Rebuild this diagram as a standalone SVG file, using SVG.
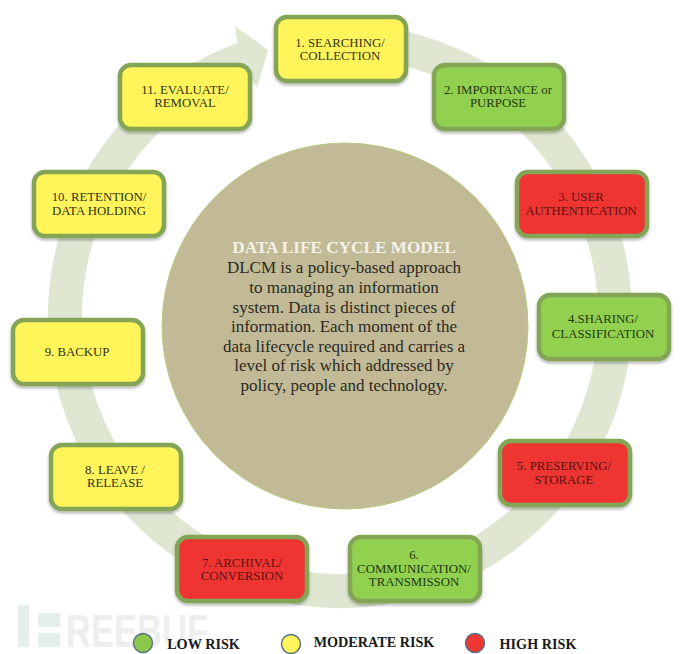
<svg xmlns="http://www.w3.org/2000/svg" width="690" height="654" viewBox="0 0 690 654">
<style>
text{font-family:"Liberation Serif","Times New Roman",serif;text-anchor:middle;fill:#222}
.n rect{stroke:#84a557;stroke-width:4.5;filter:url(#s)}
.n text{font-size:12.8px}
.g rect{fill:#92d050}.y rect{fill:#fff55a}.r rect{fill:#ee3632}
.g text{fill:#1f3a10}.y text{fill:#333318}.r text{fill:#5a1212}
.b text{font-size:17px;fill:#2a2a24}
.l circle{stroke:#5a7288;stroke-width:1.5}
.l text{font-size:14.2px;font-weight:bold;fill:#1a1a1a}
.ring{fill:none;stroke:#dfe7d3;stroke-width:34}
</style>
<defs>
<filter id="s" x="-10%" y="-10%" width="120%" height="125%"><feDropShadow dx="0" dy="2" stdDeviation="1.5" flood-color="#000" flood-opacity=".3"/></filter>
</defs>
<g id="connectors">
<path class="ring" d="M340 41A275 275 0 1 1 246 57.6"/>
<polygon points="235,26 268,50 257,88 240,60" fill="#dfe7d3"/>
</g>
<g id="center" class="b">
<circle cx="345" cy="326" r="183" fill="#c2ba96" stroke="#b5cc80" stroke-width="1"/>
<text x="344" y="253" style="font-weight:bold;font-size:17.2px;fill:#f4f2e8">DATA LIFE CYCLE MODEL</text>
<text x="344" y="273">DLCM is a policy-based approach</text>
<text x="344" y="293">to managing an information</text>
<text x="344" y="313">system. Data is distinct pieces of</text>
<text x="344" y="332">information. Each moment of the</text>
<text x="344" y="352">data lifecycle required and carries a</text>
<text x="344" y="371">level of risk which addressed by</text>
<text x="344" y="391">policy, people and technology.</text>
</g>
<g id="n1" class="n y"><rect x="276" y="17" width="130" height="64" rx="11"/><text x="340" y="46.5">1. SEARCHING/</text><text x="340" y="59.5">COLLECTION</text></g>
<g id="n2" class="n g"><rect x="434" y="65" width="130" height="64" rx="11"/><text x="498" y="94">2. IMPORTANCE or</text><text x="498" y="107">PURPOSE</text></g>
<g id="n3" class="n r"><rect x="517" y="172" width="130" height="64" rx="11"/><text x="581" y="201">3. USER</text><text x="581" y="215">AUTHENTICATION</text></g>
<g id="n4" class="n g"><rect x="539" y="295" width="130" height="64" rx="11"/><text x="603" y="323">4.SHARING/</text><text x="603" y="338">CLASSIFICATION</text></g>
<g id="n5" class="n r"><rect x="500" y="441" width="130" height="64" rx="11"/><text x="564" y="470">5. PRESERVING/</text><text x="564" y="484">STORAGE</text></g>
<g id="n6" class="n g"><rect x="350" y="537" width="130" height="64" rx="11"/><text x="414" y="559">6.</text><text x="414" y="573">COMMUNICATION/</text><text x="414" y="586">TRANSMISSON</text></g>
<g id="n7" class="n r"><rect x="177" y="537" width="130" height="64" rx="11"/><text x="242" y="567">7. ARCHIVAL/</text><text x="242" y="580">CONVERSION</text></g>
<g id="n8" class="n y"><rect x="51" y="445" width="130" height="64" rx="11"/><text x="115" y="474">8. LEAVE /</text><text x="115" y="487">RELEASE</text></g>
<g id="n9" class="n y"><rect x="13" y="320" width="130" height="64" rx="11"/><text x="77" y="356">9. BACKUP</text></g>
<g id="n10" class="n y"><rect x="34" y="172" width="130" height="64" rx="11"/><text x="99" y="201">10. RETENTION/</text><text x="99" y="215">DATA HOLDING</text></g>
<g id="n11" class="n y"><rect x="120" y="65" width="130" height="64" rx="11"/><text x="185" y="94">11. EVALUATE/</text><text x="185" y="107">REMOVAL</text></g>
<g id="watermark" fill="#e4efea">
<rect x="18" y="605" width="11" height="42"/><rect x="38" y="613" width="22" height="14"/><rect x="38" y="633" width="22" height="14"/>
<text x="66" y="647" style="font-family:'Liberation Sans',sans-serif;font-size:47px;font-weight:bold;fill:#eeeeee;text-anchor:start" textLength="142" lengthAdjust="spacingAndGlyphs">REEBUF</text>
</g>
<g id="legend" class="l">
<circle cx="143" cy="643" r="9.5" fill="#8cc84b"/><text x="203.5" y="649">LOW RISK</text>
<circle cx="291" cy="644" r="9.5" fill="#fff55a"/><text x="374" y="647">MODERATE RISK</text>
<circle cx="475" cy="643" r="9.5" fill="#ee3632"/><text x="538" y="649">HIGH RISK</text>
</g>
</svg>
